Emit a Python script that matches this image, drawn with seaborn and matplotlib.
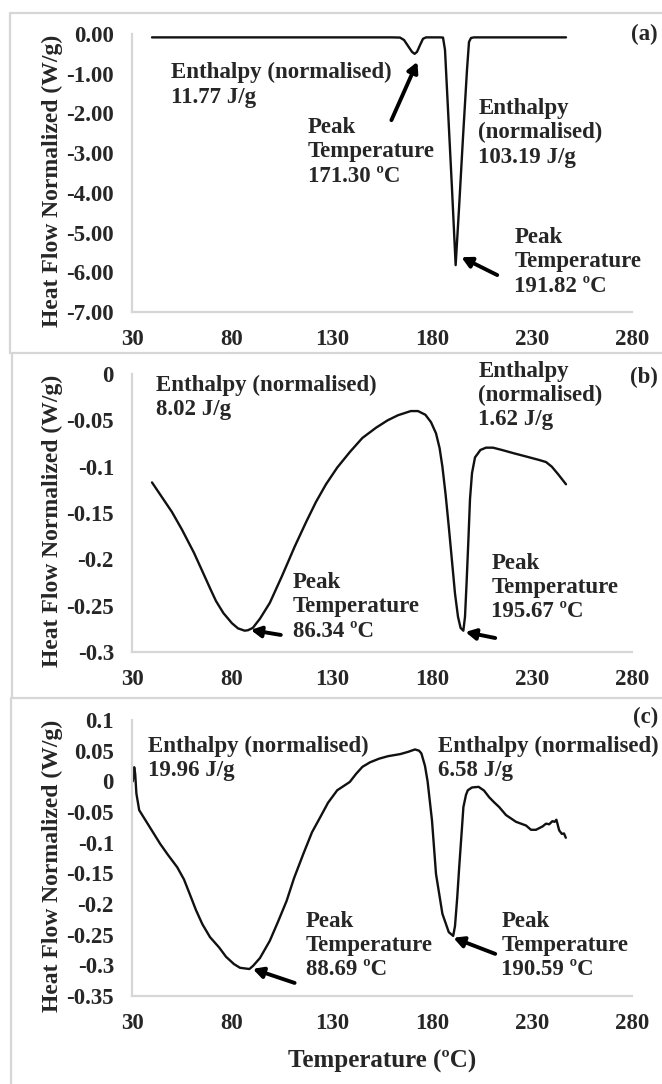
import matplotlib
matplotlib.use("Agg")
import matplotlib.pyplot as plt
from matplotlib.lines import Line2D
import numpy as np
import pandas as pd
import seaborn as sns

# ---------------- DSC curves ----------------
# (a) heat flow, W/g
temp_a = [40, 100, 160, 164, 166, 168, 170, 171.3, 172.5, 174, 175.5, 177, 184,
          185.5, 186.5, 188, 190, 191.82, 193.5, 195.5, 197.5, 198.5, 199.5, 201, 210, 247]
flow_a = [-0.085, -0.085, -0.085, -0.09, -0.15, -0.30, -0.45, -0.50, -0.45, -0.28, -0.12, -0.085, -0.085,
          -0.09, -0.40, -1.90, -3.90, -5.82, -4.40, -2.60, -0.90, -0.20, -0.10, -0.085, -0.085, -0.085]

# (b)
temp_b = [40, 45, 50, 55, 61, 65, 69.4, 72, 75.7, 80, 83, 86.34, 88, 90.4, 94, 98.9, 105, 111.4,
          117, 122, 127, 132.6, 139, 145.2, 152, 157.8, 163, 169.4, 173, 176.7, 179.5, 182, 183.8,
          185.2, 186.8, 188.4, 190, 191.5, 193, 194.3, 195.67, 196.5, 197.3, 198.2, 199, 200, 201.5,
          204.2, 207, 210.5, 215, 221, 227, 233.6, 237, 239.9, 243, 247]
flow_b = [-0.117, -0.133, -0.149, -0.168, -0.193, -0.212, -0.233, -0.245, -0.258, -0.269, -0.2745,
          -0.277, -0.2765, -0.274, -0.264, -0.247, -0.218, -0.186, -0.160, -0.138, -0.119, -0.101,
          -0.084, -0.069, -0.058, -0.050, -0.0445, -0.040, -0.040, -0.044, -0.052, -0.064, -0.080,
          -0.100, -0.130, -0.165, -0.202, -0.237, -0.262, -0.274, -0.277, -0.262, -0.225, -0.179,
          -0.135, -0.107, -0.090, -0.082, -0.0795, -0.0795, -0.082, -0.0856, -0.089, -0.0928,
          -0.095, -0.100, -0.108, -0.119]

# (c)
temp_c = [30.4, 31.1, 31.6, 32.2, 33.6, 37.8, 44.1, 48, 52.6, 56, 58.9, 62, 65.2, 69, 73.6, 77, 81,
          84, 88.69, 90.5, 94, 98.9, 103, 107.3, 111, 115.7, 120, 124.2, 128, 132.6, 138.9, 142,
          145.2, 149, 153.6, 158, 164.1, 168, 171.5, 173.5, 174.7, 176.5, 177.8, 180, 182, 185.2,
          188.4, 190.59, 191.5, 192.6, 193.6, 195, 195.7, 197, 197.9, 200, 203.3, 206, 208.6, 211,
          213.6, 217, 222, 227, 229.5, 232, 235.3, 237, 238.6, 240.2, 241.3, 242.2, 243.6, 244.9,
          246, 246.9]
flow_c = [0.000, 0.023, 0.012, -0.020, -0.047, -0.069, -0.102, -0.120, -0.140, -0.160, -0.184,
          -0.210, -0.233, -0.254, -0.271, -0.286, -0.298, -0.304, -0.306, -0.301, -0.288, -0.260,
          -0.229, -0.195, -0.158, -0.118, -0.083, -0.058, -0.035, -0.0146, -0.001, 0.012, 0.0236,
          0.031, 0.037, 0.041, 0.0444, 0.048, 0.052, 0.050, 0.0455, 0.025, 0.000, -0.064, -0.151,
          -0.216, -0.246, -0.252, -0.236, -0.190, -0.140, -0.075, -0.042, -0.022, -0.0146, -0.010,
          -0.009, -0.015, -0.026, -0.034, -0.042, -0.055, -0.066, -0.072, -0.079, -0.079, -0.0735,
          -0.069, -0.070, -0.065, -0.066, -0.0626, -0.080, -0.0856, -0.085, -0.092]

# ---------------- axis ticks ----------------
x_ticks = [30, 80, 130, 180, 230, 280]
y_ticks_a = [0, -1, -2, -3, -4, -5, -6, -7]
y_labels_a = ["0.00", "-1.00", "-2.00", "-3.00", "-4.00", "-5.00", "-6.00", "-7.00"]
y_ticks_b = [0, -0.05, -0.1, -0.15, -0.2, -0.25, -0.3]
y_labels_b = ["0", "-0.05", "-0.1", "-0.15", "-0.2", "-0.25", "-0.3"]
y_ticks_c = [0.1, 0.05, 0, -0.05, -0.1, -0.15, -0.2, -0.25, -0.3, -0.35]
y_labels_c = ["0.1", "0.05", "0", "-0.05", "-0.1", "-0.15", "-0.2", "-0.25", "-0.3", "-0.35"]

panel_tags = ["(a)", "(b)", "(c)"]

sns.set_style("white")
plt.rcParams["font.family"] = ["Liberation Serif", "DejaVu Serif"]
plt.rcParams["font.weight"] = "bold"
plt.rcParams["axes.unicode_minus"] = False

W, H = 662, 1084
fig = plt.figure(figsize=(W / 100, H / 100), dpi=100)

GRID = "#d6d6d6"
FS = 16.5


def ax_rect(left, top, right, bottom):
    return [left / W, 1 - bottom / H, (right - left) / W, (bottom - top) / H]


def fig_line(xs, ys, lw=1.6):
    fig.add_artist(Line2D([x / W for x in xs], [1 - y / H for y in ys],
                          color=GRID, lw=lw, transform=fig.transFigure))


# panel frames
fig_line([10, 10], [13, 353])
fig_line([10, 662], [13, 13])
fig_line([10, 662], [353, 353])
fig_line([12, 12], [353, 698])
fig_line([12, 662], [698, 698])
fig_line([11, 11], [698, 1084])

ax_a = fig.add_axes(ax_rect(132, 34, 632, 312))
ax_b = fig.add_axes(ax_rect(132, 374, 632, 652))
ax_c = fig.add_axes(ax_rect(132, 720, 632, 996))

panels = [
    (ax_a, temp_a, flow_a, (-7, 0), y_ticks_a, y_labels_a),
    (ax_b, temp_b, flow_b, (-0.3, 0), y_ticks_b, y_labels_b),
    (ax_c, temp_c, flow_c, (-0.35, 0.1), y_ticks_c, y_labels_c),
]

for i, (ax, t, f, ylim, yt, yl) in enumerate(panels):
    df = pd.DataFrame({"Temperature": t, "Heat flow": f})
    sns.lineplot(data=df, x="Temperature", y="Heat flow", ax=ax, color="#111111",
                 lw=1.7, estimator=None, sort=False)
    ax.set_xlim(30, 280)
    ax.set_ylim(*ylim)
    ax.set_xticks(x_ticks)
    ax.set_xticklabels([str(v) for v in x_ticks], fontsize=FS, fontweight="bold")
    ax.set_yticks(yt)
    ax.set_yticklabels(yl, fontsize=FS, fontweight="bold")
    ax.tick_params(axis="both", length=0)
    ax.tick_params(axis="y", pad=13)
    ax.tick_params(axis="x", pad=12)
    for side in ["top", "right"]:
        ax.spines[side].set_visible(False)
    for side in ["left", "bottom"]:
        ax.spines[side].set_color(GRID)
        ax.spines[side].set_linewidth(1.6)
    ax.set_facecolor("none")
    ax.grid(False)
    ax.set_xlabel("")
    ax.set_ylabel("Heat Flow Normalized (W/g)", fontsize=17, fontweight="bold")
    ax.yaxis.set_label_coords(-0.138, 0.47)
    ax.text(1.052, 1.0 if i == 0 else (0.989 if i == 1 else 1.01), panel_tags[i],
            transform=ax.transAxes, ha="right", va="center", fontsize=FS, fontweight="bold")

ax_c.set_xlabel("Temperature (ºC)", fontsize=18, fontweight="bold", labelpad=12)

txt = dict(fontsize=FS, fontweight="bold", ha="left", va="center", linespacing=1.2)
arrow = dict(arrowstyle="-|>,head_length=0.6,head_width=0.32", color="black", lw=2.8,
             shrinkA=0, shrinkB=0)

# (a)
ax_a.text(49.5, -1.28, "Enthalpy (normalised)\n11.77 J/g", **txt)
ax_a.text(117.8, -2.97, "Peak\nTemperature\n171.30 ºC", **txt)
ax_a.text(203.2, -2.49, "Enthalpy\n(normalised)\n103.19 J/g", **txt)
ax_a.text(221.1, -5.74, "Peak\nTemperature\n191.82 ºC", **txt)
ax_a.annotate("", xy=(172.7, -0.70), xytext=(159.7, -2.17), arrowprops=arrow)
ax_a.annotate("", xy=(194.7, -5.62), xytext=(212.6, -6.07), arrowprops=arrow)

# (b)
ax_b.text(42, -0.0254, "Enthalpy (normalised)\n8.02 J/g", **txt)
ax_b.text(203.2, -0.0232, "Enthalpy\n(normalised)\n1.62 J/g", **txt)
ax_b.text(110.3, -0.2514, "Peak\nTemperature\n86.34 ºC", **txt)
ax_b.text(209.6, -0.2304, "Peak\nTemperature\n195.67 ºC", **txt)
ax_b.annotate("", xy=(89.4, -0.2762), xytext=(104.4, -0.2816), arrowprops=arrow)
ax_b.annotate("", xy=(196.7, -0.2784), xytext=(211.6, -0.2849), arrowprops=arrow)

# (c)
ax_c.text(38, 0.037, "Enthalpy (normalised)\n19.96 J/g", **txt)
ax_c.text(183.2, 0.037, "Enthalpy (normalised)\n6.58 J/g", **txt)
ax_c.text(116.8, -0.268, "Peak\nTemperature\n88.69 ºC", **txt)
ax_c.text(214.6, -0.268, "Peak\nTemperature\n190.59 ºC", **txt)
ax_c.annotate("", xy=(90.4, -0.3058), xytext=(111.3, -0.3287), arrowprops=arrow)
ax_c.annotate("", xy=(190.7, -0.2551), xytext=(211.6, -0.2813), arrowprops=arrow)

fig.savefig("out.png", dpi=100)
